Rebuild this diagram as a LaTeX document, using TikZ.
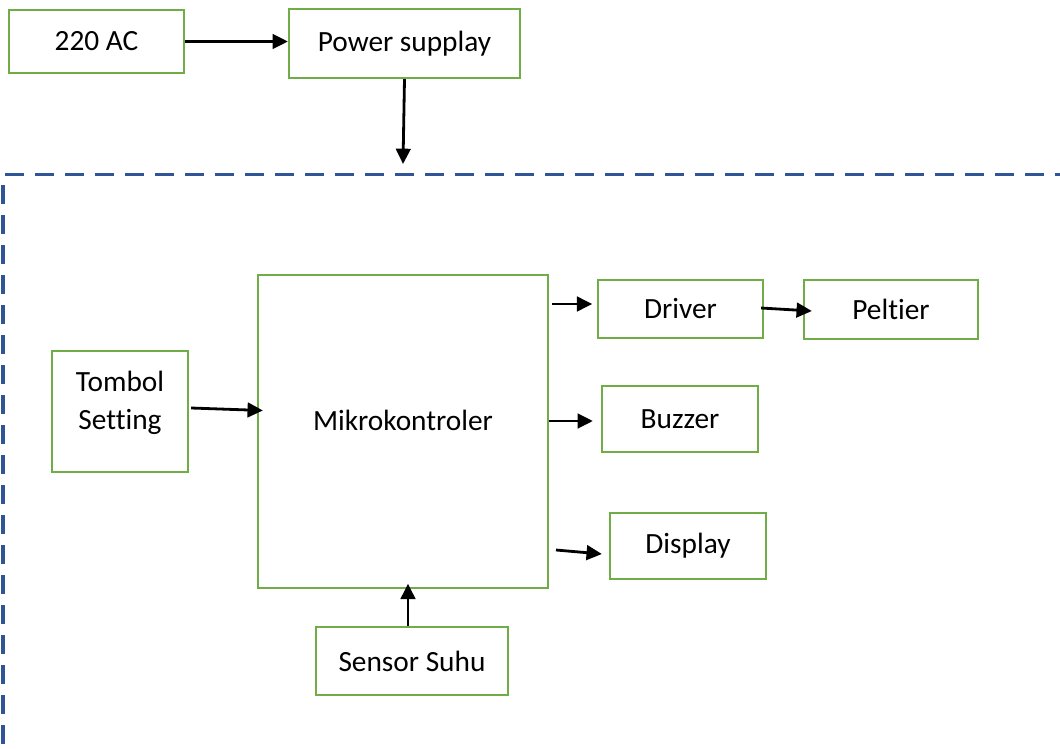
\documentclass[tikz,border=0pt]{standalone}
\usepackage{fontspec}
\setmainfont{Carlito}[RawFeature=-liga]
\usetikzlibrary{arrows.meta,calc}
\definecolor{boxgreen}{HTML}{70AD47}
\definecolor{frameblue}{HTML}{2F5597}
\tikzset{
  blk/.style={draw=boxgreen, line width=1.7pt, fill=white, inner sep=0pt,
              font=\fontsize{22}{28.5}\selectfont, align=center},
  arr/.style={line width=2.1pt, -{Triangle[length=11.5pt,width=11pt]}},
  frame/.style={draw=frameblue, line width=2.9pt, dash pattern=on 14.25pt off 8.25pt}
}
\begin{document}
\begin{tikzpicture}[x=0.75pt,y=-0.75pt]
\useasboundingbox[fill=white] (0,0) rectangle (1060,749);

% dashed outline of the controller unit
\draw[frame] (5,174.5) -- (1060,174.5);
\draw[frame] (3,185) -- (3,749);

% blocks
\node[blk, minimum width=131.25pt, minimum height=47.25pt] (ac) at (96.5,41.5) {220 AC};
\node[blk, minimum width=173.25pt, minimum height=51.75pt] (ps) at (404.5,43.5) {Power supplay};
\node[blk, minimum width=217.5pt, minimum height=234.75pt] (mk) at (403,431.5) {};
\node[font=\fontsize{22}{28.5}\selectfont] at (403,420) {Mikrokontroler};
\node[blk, minimum width=102pt, minimum height=90.75pt] (ts) at (120,411.5) {Tombol\\Setting\\[-21pt]\strut};
\node[blk, minimum width=123.75pt, minimum height=43.5pt] (dr) at (680.5,309) {Driver};
\node[blk, minimum width=130.5pt, minimum height=44.25pt] (pe) at (891,309.5) {Peltier};
\node[blk, minimum width=117pt, minimum height=49.5pt] (bz) at (680,419) {Buzzer};
\node[blk, minimum width=117pt, minimum height=49.5pt] (dp) at (688,546) {Display};
\node[blk, minimum width=144pt, minimum height=51pt] (ss) at (412,661) {Sensor Suhu};

% free ends of the connectors
\coordinate (psin) at (403,164);
\coordinate (m1) at (552,304);
\coordinate (m2) at (549,421);
\coordinate (m3) at (556,550);

% connectors
\draw[arr] (ac.east) -- (ps.west |- ac.east);
\draw[arr] (ps.south) -- (psin);
\draw[arr] ([shift={(2,-3.5)}]ts.east) -- ([shift={(6,-1)}]mk.west |- ts.east);
\draw[arr] (m1) -- ([xshift=-3.5pt]dr.west |- m1);
\draw[arr] ([shift={(-3,-1)}]dr.east) -- ([shift={(9,1.5)}]pe.west);
\draw[arr] (m2) -- ([xshift=-6pt]bz.west |- m2);
\draw[arr] (m3) -- ([shift={(-7,8)}]dp.west);
\draw[arr] ([xshift=-3pt]ss.north) -- ([xshift=-3pt,yshift=4pt]ss.north |- mk.south);
\end{tikzpicture}
\end{document}
